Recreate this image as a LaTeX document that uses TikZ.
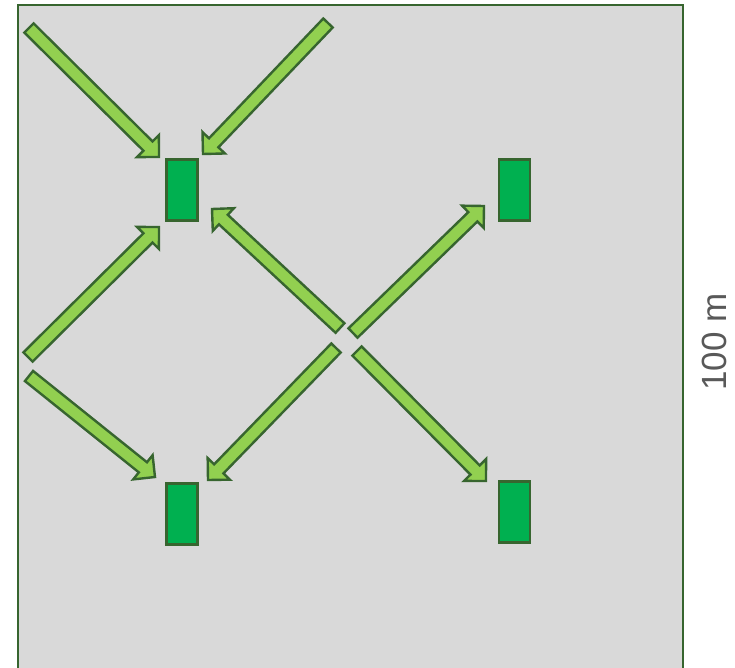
\documentclass[tikz,border=0pt]{standalone}
\usepackage{fontspec}
\newfontfamily\labelfont{Liberation Sans}
\usetikzlibrary{calc}
\definecolor{edgegreen}{HTML}{37652F}
\definecolor{arrowfill}{HTML}{92D050}
\definecolor{boxfill}{HTML}{00B050}
\definecolor{areafill}{HTML}{D9D9D9}
\definecolor{labelgray}{HTML}{595959}
\tikzset{
  area/.style={draw=edgegreen, fill=areafill, line width=2.2pt},
  house/.style={draw=edgegreen, fill=boxfill, line width=2.2pt, minimum width=31pt, minimum height=61pt, inner sep=0pt, outer sep=0pt},
  blockarr/.style={draw=edgegreen, fill=arrowfill, line width=2.4pt, line join=miter},
  sizelabel/.style={text=labelgray, font=\labelfont\fontsize{35}{40}\selectfont, rotate=90, inner sep=0pt}
}
% #1 tail centre, #2 tip
\newcommand\blockarrow[2]{%
  \coordinate (hb) at ($(#2)!15.5pt!(#1)$);
  \draw[blockarr]
    ($(#1)!6.5pt!90:(#2)$) -- ($(hb)!6.5pt!90:(#2)$) -- ($(hb)!15.5pt!90:(#2)$)
    -- (#2) -- ($(hb)!15.5pt!-90:(#2)$) -- ($(hb)!6.5pt!-90:(#2)$)
    -- ($(#1)!6.5pt!-90:(#2)$) -- cycle;
}
\begin{document}
\begin{tikzpicture}[x=1pt,y=-1pt]
\useasboundingbox (0,0) rectangle (735,668);
\clip (0,0) rectangle (735,668);
\draw[area] (18,5) rectangle (683,690);
% houses
\node[house] (h1) at (182,190) {};
\node[house] (h2) at (514.5,190) {};
\node[house] (h3) at (182,514) {};
\node[house] (h4) at (514.5,512) {};
% arrow end points
\coordinate (t1) at (29,28);   \coordinate (p1) at (159,157);
\coordinate (t2) at (328,23);  \coordinate (p2) at (203,154);
\coordinate (t3) at (28,357);  \coordinate (p3) at (159,227);
\coordinate (t4) at (29,376);  \coordinate (p4) at (155,477);
\coordinate (t5) at (340,328); \coordinate (p5) at (212,209);
\coordinate (t6) at (353,333); \coordinate (p6) at (484,206);
\coordinate (t7) at (336,348); \coordinate (p7) at (208,480);
\coordinate (t8) at (357,351); \coordinate (p8) at (486,481);
\blockarrow{t1}{p1}
\blockarrow{t2}{p2}
\blockarrow{t3}{p3}
\blockarrow{t4}{p4}
\blockarrow{t5}{p5}
\blockarrow{t6}{p6}
\blockarrow{t7}{p7}
\blockarrow{t8}{p8}
\node[sizelabel] (lbl) at (714,342) {100 m};
\end{tikzpicture}
\end{document}
